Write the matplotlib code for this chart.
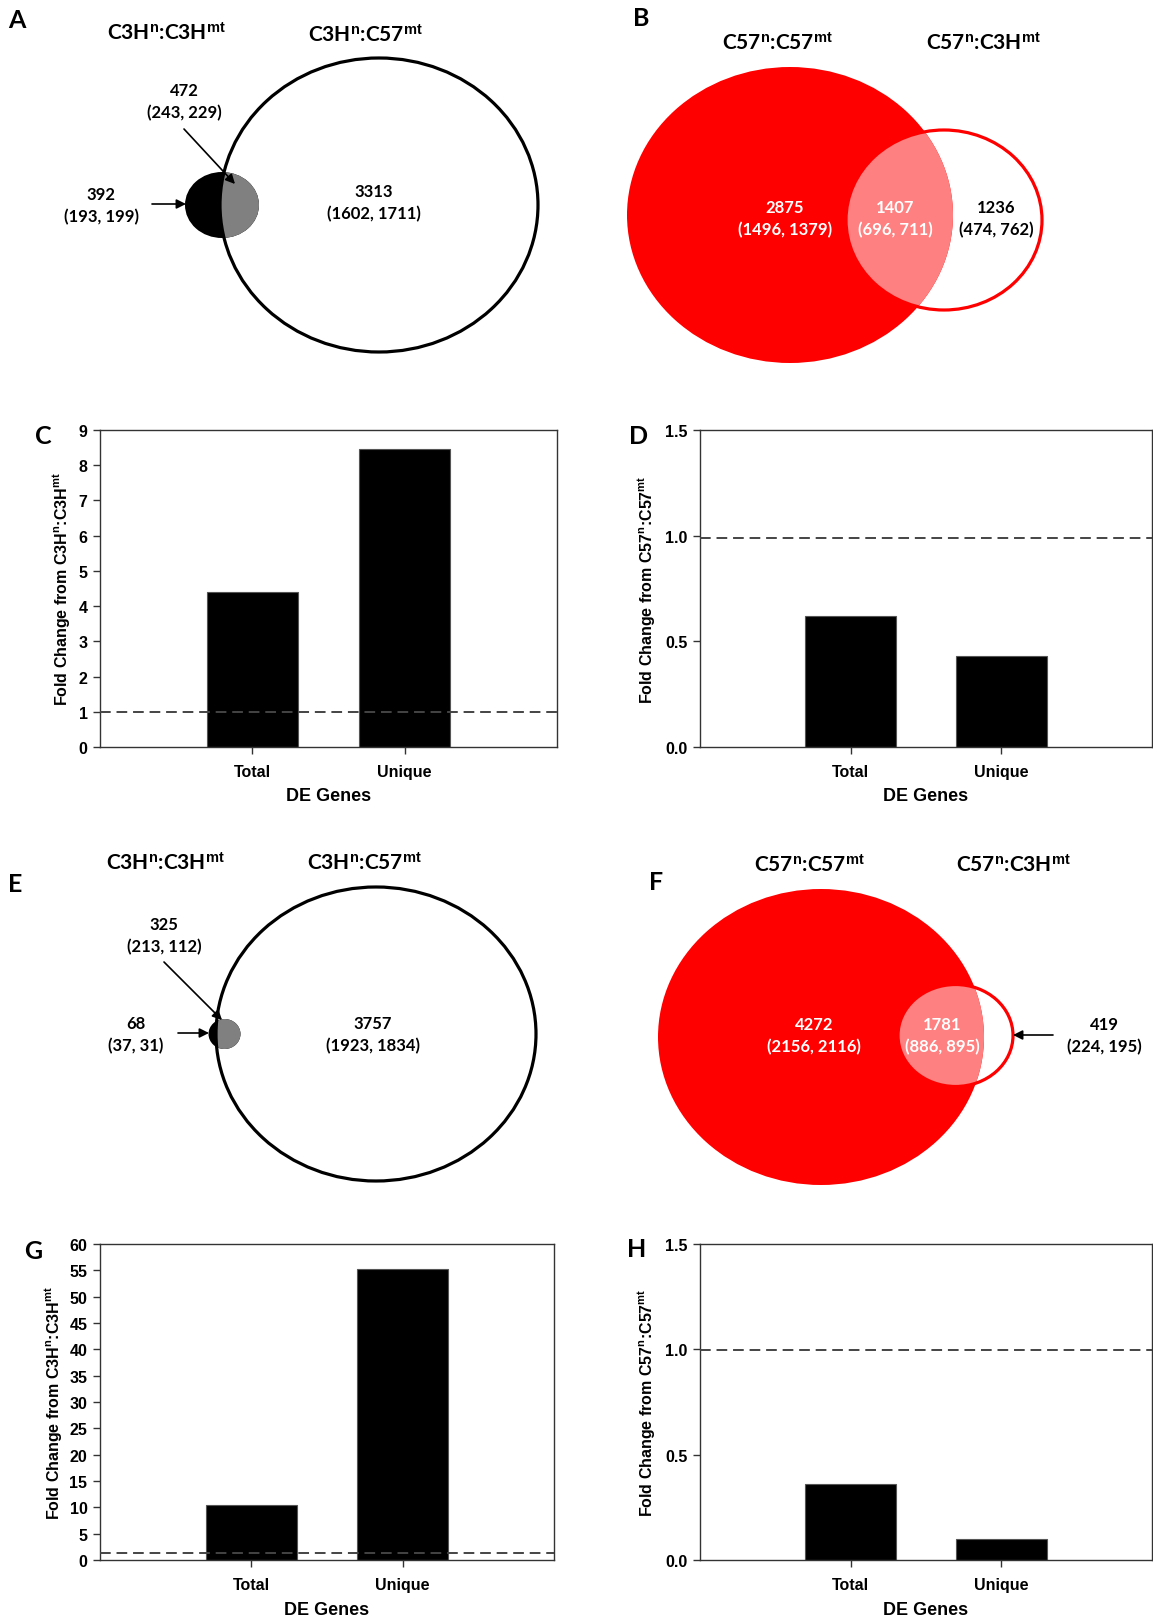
import matplotlib
matplotlib.use('Agg')
import matplotlib.pyplot as plt
from matplotlib.patches import Ellipse

plt.rcParams['mathtext.fontset'] = 'custom'
plt.rcParams['mathtext.bf'] = 'Liberation Sans:bold'
plt.rcParams['mathtext.rm'] = 'Liberation Sans:bold'
plt.rcParams['mathtext.default'] = 'bf'

# ---- data ----
c3h_sets = ['C3H$^{n}$:C3H$^{mt}$', 'C3H$^{n}$:C57$^{mt}$']
c57_sets = ['C57$^{n}$:C57$^{mt}$', 'C57$^{n}$:C3H$^{mt}$']

# venn counts: [left only, overlap, right only] with (up, down) splits
a_counts = [392, 472, 3313]
a_split = [(193, 199), (243, 229), (1602, 1711)]
b_counts = [2875, 1407, 1236]
b_split = [(1496, 1379), (696, 711), (474, 762)]
e_counts = [68, 325, 3757]
e_split = [(37, 31), (213, 112), (1923, 1834)]
f_counts = [4272, 1781, 419]
f_split = [(2156, 2116), (886, 895), (224, 195)]

categories = ['Total', 'Unique']
c_vals = [4.39, 8.46]
d_vals = [0.62, 0.43]
g_vals = [10.45, 55.3]
h_vals = [0.36, 0.098]
ref_c, ref_d, ref_g, ref_h = 1.0, 0.99, 1.35, 0.995

W, H = 1153, 1624
fig = plt.figure(figsize=(W / 100, H / 100), dpi=100)

ov = fig.add_axes([0, 0, 1, 1])
ov.set_xlim(0, W)
ov.set_ylim(H, 0)
ov.axis('off')

VF = 'Lato'
RED = '#ff0000'
PINK = '#ff8080'


def label(x, y, s, color='black', size=12):
    ov.text(x, y, s, ha='center', va='center', color=color, fontsize=size,
            family=VF, weight='bold')


def count_label(x, y, n, sp, color='black'):
    label(x, y - 11, str(n), color)
    label(x, y + 11, '(%d, %d)' % sp, color)


def arrow(x0, y0, x1, y1):
    ov.annotate('', xy=(x1, y1), xytext=(x0, y0),
                arrowprops=dict(arrowstyle='-|>', color='black', lw=1.2,
                                mutation_scale=14, shrinkA=0, shrinkB=0))


def black_venn(big_c, big_wh, sm_c, sm_wh):
    big = Ellipse(big_c, *big_wh, fc='none', ec='black', lw=2.3, zorder=3)
    ov.add_patch(big)
    ov.add_patch(Ellipse(sm_c, *sm_wh, fc='black', ec='none', zorder=1))
    g = Ellipse(sm_c, *sm_wh, fc='#808080', ec='none', zorder=2)
    ov.add_patch(g)
    g.set_clip_path(big)


def red_venn(big_c, big_wh, sm_c, sm_wh):
    big = Ellipse(big_c, *big_wh, fc=RED, ec='none', zorder=1)
    ov.add_patch(big)
    p = Ellipse(sm_c, *sm_wh, fc=PINK, ec='none', zorder=2)
    ov.add_patch(p)
    p.set_clip_path(big)
    ov.add_patch(Ellipse(sm_c, *sm_wh, fc='none', ec=RED, lw=2.3, zorder=3))


def title(x, y, s):
    ov.text(x, y, s, ha='center', va='center', fontsize=15, family=VF,
            weight='bold')


def panel(x, y, s):
    ov.text(x, y, s, ha='center', va='center', fontsize=18, family=VF,
            weight='bold')


# ---- A ----
panel(17, 20, 'A')
title(166, 33, c3h_sets[0])
title(365, 35, c3h_sets[1])
black_venn((379, 206), (318, 294), (222, 206), (74, 66))
count_label(101, 206, a_counts[0], a_split[0])
count_label(184, 102, a_counts[1], a_split[1])
count_label(374, 203, a_counts[2], a_split[2])
arrow(152, 205, 186, 205)
arrow(184, 130, 235, 185)

# ---- B ----
panel(641, 19, 'B')
title(777, 43, c57_sets[0])
title(983, 43, c57_sets[1])
red_venn((790, 216), (326, 296), (944, 221), (196, 180))
count_label(785, 219, b_counts[0], b_split[0], 'white')
count_label(895, 219, b_counts[1], b_split[1], 'white')
count_label(996, 219, b_counts[2], b_split[2])

# ---- E ----
panel(15, 885, 'E')
title(165, 863, c3h_sets[0])
title(364, 863, c3h_sets[1])
black_venn((376, 1035), (320, 294), (224.5, 1035), (32, 30))
count_label(136, 1035, e_counts[0], e_split[0])
count_label(164, 936, e_counts[1], e_split[1])
count_label(373, 1035, e_counts[2], e_split[2])
arrow(178, 1034, 209, 1034)
arrow(164, 963, 222, 1021)

# ---- F ----
panel(656, 883, 'F')
title(809, 865, c57_sets[0])
title(1013, 865, c57_sets[1])
red_venn((821, 1038), (326, 296), (955.5, 1036.5), (115, 102))
count_label(814, 1036, f_counts[0], f_split[0], 'white')
count_label(942, 1036, f_counts[1], f_split[1], 'white')
count_label(1104, 1036, f_counts[2], f_split[2])
arrow(1053, 1036, 1013, 1036)


# ---- bar charts ----
def px_axes(l, t, r, b):
    return fig.add_axes([l / W, 1 - b / H, (r - l) / W, (b - t) / H])


AF = 'Liberation Sans'
SP = '#333333'


def bars(ax, vals, ref, yticks, fmt, ylab, ylab_x, xlab_y):
    ax.bar([1, 2], vals, width=0.6, color='black', edgecolor='#555555',
           lw=0.8, zorder=2)
    ax.axhline(ref, color='#444444', lw=1.4, ls=(0, (5.5, 3)), zorder=3)
    ax.set_xlim(0, 3)
    ax.set_ylim(yticks[0], yticks[-1])
    ax.set_yticks(yticks)
    ax.set_yticklabels([fmt % t for t in yticks], family=AF, weight='bold',
                       fontsize=11.5)
    ax.set_xticks([1, 2])
    ax.set_xticklabels(categories, family=AF, weight='bold', fontsize=11.5)
    ax.tick_params(axis='both', direction='out', length=5, width=1,
                   color=SP)
    ax.tick_params(axis='y', pad=4)
    ax.tick_params(axis='x', pad=7)
    for s in ax.spines.values():
        s.set_color(SP)
        s.set_linewidth(1.0)
    ax.set_ylabel(ylab, family=AF, weight='bold', fontsize=11.5)
    ax.yaxis.set_label_coords(ylab_x, 0.5)
    ax.set_xlabel('DE Genes', family=AF, weight='bold', fontsize=13)
    ax.xaxis.set_label_coords(0.5, xlab_y)


ylab_c3h = 'Fold Change from C3H$^{n}$:C3H$^{mt}$'
ylab_c57 = 'Fold Change from C57$^{n}$:C57$^{mt}$'

axC = px_axes(100, 431, 557, 748)
bars(axC, c_vals, ref_c, list(range(0, 10)), '%d', ylab_c3h, -0.062, -0.125)
panel(43, 437, 'C')

axD = px_axes(700, 431, 1152, 748)
bars(axD, d_vals, ref_d, [0.0, 0.5, 1.0, 1.5], '%.1f', ylab_c57, -0.095, -0.125)
panel(639, 437, 'D')

axG = px_axes(100, 1245, 554, 1561)
bars(axG, g_vals, ref_g, list(range(0, 61, 5)), '%d', ylab_c3h, -0.08, -0.13)
panel(33, 1252, 'G')

axH = px_axes(700, 1245, 1152, 1561)
bars(axH, h_vals, ref_h, [0.0, 0.5, 1.0, 1.5], '%.1f', ylab_c57, -0.095, -0.13)
panel(637, 1250, 'H')

fig.savefig('out.png', dpi=100)
